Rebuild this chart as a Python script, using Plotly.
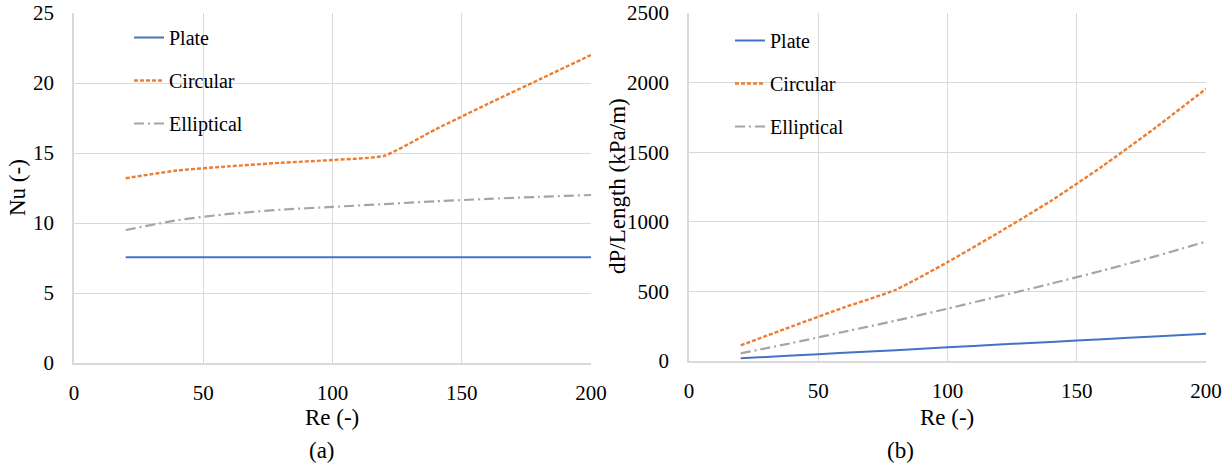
import plotly.graph_objects as go

re_vals = [20, 40, 60, 80, 100, 120, 140, 160, 180, 200]

nu_plate = [7.56, 7.56, 7.56, 7.56, 7.56, 7.56, 7.56, 7.56, 7.56, 7.56]
nu_circular = [13.2, 13.75, 14.05, 14.3, 14.5, 14.8, 16.7, 18.5, 20.25, 22.0]
nu_elliptical = [9.5, 10.2, 10.65, 10.95, 11.15, 11.35, 11.55, 11.72, 11.87, 12.0]

dp_plate = [20, 39, 59, 78, 98, 118, 137, 157, 176, 196]
dp_circular = [112, 250, 385, 512, 710, 925, 1150, 1400, 1670, 1955]
dp_elliptical = [55, 130, 210, 290, 376, 465, 555, 650, 750, 858]

x_ticks = [0, 50, 100, 150, 200]
nu_ticks = [0, 5, 10, 15, 20, 25]
dp_ticks = [0, 500, 1000, 1500, 2000, 2500]

names = ["Plate", "Circular", "Elliptical"]
colors = ["#4472C4", "#ED7D31", "#A5A5A5"]
dashes = ["solid", "4px,2px", "10px,4px,2px,4px"]
widths = [2, 2.4, 2.2]

FONT = "Times New Roman, Liberation Serif, DejaVu Serif, serif"
W, H = 1231, 467

fig = go.Figure()

for i, (name, ys) in enumerate(zip(names, [nu_plate, nu_circular, nu_elliptical])):
    fig.add_trace(go.Scatter(
        x=re_vals, y=ys, name=name, mode="lines",
        line=dict(color=colors[i], width=widths[i], dash=dashes[i], shape="spline", smoothing=0.5),
        xaxis="x", yaxis="y", legend="legend", legendgroup="a" + name,
    ))
for i, (name, ys) in enumerate(zip(names, [dp_plate, dp_circular, dp_elliptical])):
    fig.add_trace(go.Scatter(
        x=re_vals, y=ys, name=name, mode="lines",
        line=dict(color=colors[i], width=widths[i], dash=dashes[i], shape="spline", smoothing=0.5),
        xaxis="x2", yaxis="y2", legend="legend2", legendgroup="b" + name,
    ))

grid = "#D9D9D9"
tickfont = dict(family=FONT, size=21, color="#000000")
axis_common = dict(
    showgrid=True, gridcolor=grid, gridwidth=1,
    showline=True, linecolor=grid, linewidth=1.5,
    zeroline=False, ticks="", automargin=False,
    tickfont=tickfont,
)

def xax(domain, anchor):
    return dict(axis_common, domain=domain, anchor=anchor, range=[0, 200],
                tickvals=x_ticks, ticklabelstandoff=10)

def yax(domain, anchor, rng, ticks):
    return dict(axis_common, domain=domain, anchor=anchor, range=rng,
                tickvals=ticks, ticklabelstandoff=14)

legend_common = dict(
    font=dict(family=FONT, size=20, color="#000000"),
    bgcolor="rgba(0,0,0,0)", borderwidth=0,
    traceorder="grouped", tracegroupgap=14,
    xanchor="left", yanchor="top",
)

def txt(text, x, y, angle=0):
    return dict(text=text, x=x / W, y=1 - y / H, xref="paper", yref="paper",
                xanchor="center", yanchor="middle", textangle=angle,
                showarrow=False, font=dict(family=FONT, size=23, color="#000000"))

fig.update_layout(
    width=W, height=H,
    margin=dict(l=0, r=0, t=0, b=0),
    paper_bgcolor="white", plot_bgcolor="white",
    font=dict(family=FONT, size=21, color="#000000"),
    showlegend=True,
    xaxis=xax([74 / W, 591 / W], "y"),
    yaxis=yax([1 - 363 / H, 1 - 13 / H], "x", [0, 25], nu_ticks),
    xaxis2=xax([689 / W, 1206 / W], "y2"),
    yaxis2=yax([1 - 361 / H, 1 - 13 / H], "x2", [0, 2500], dp_ticks),
    legend=dict(legend_common, x=129 / W, y=1 - 18 / H),
    legend2=dict(legend_common, x=730 / W, y=1 - 21 / H),
    annotations=[
        txt("Re (-)", 332, 417),
        txt("Re (-)", 947, 417),
        txt("Nu (-)", 18, 188, -90),
        txt("dP/Length (kPa/m)", 617, 186, -90),
        txt("(a)", 322, 450),
        txt("(b)", 900, 450),
    ],
)

fig.write_html("out.html")
